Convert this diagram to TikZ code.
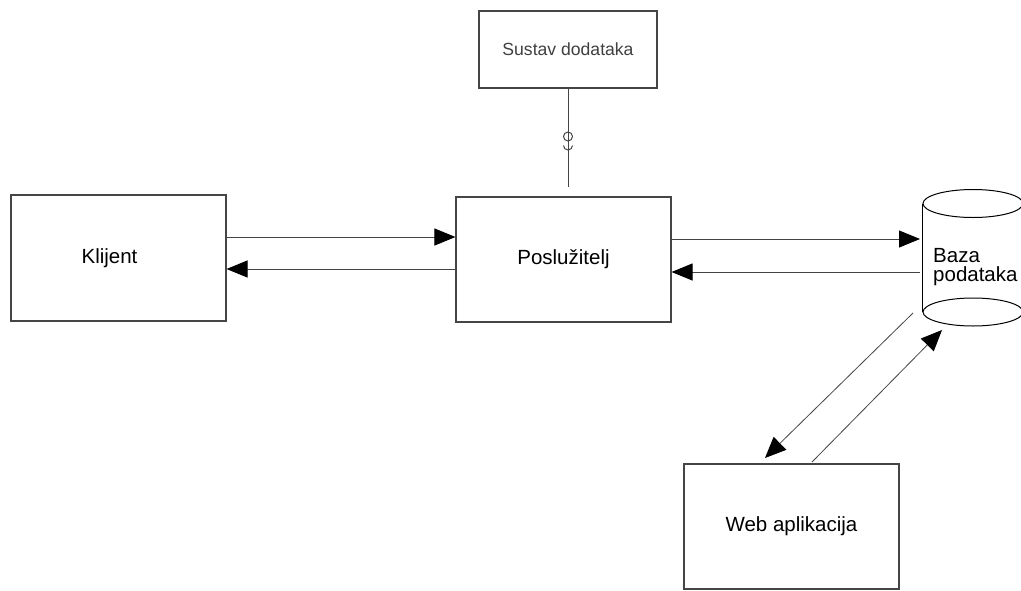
\documentclass[tikz,border=0pt]{standalone}
\usepackage{fontspec}
\setmainfont{Liberation Sans}
\usetikzlibrary{arrows.meta}
\definecolor{linegray}{HTML}{454545}
\definecolor{textgray}{HTML}{404040}
\begin{document}
\begin{tikzpicture}[x=1pt,y=-1pt,
  box/.style={draw=linegray, line width=1.1pt, inner sep=0pt, text=black,
    font=\fontsize{20.5}{24}\selectfont},
  conn/.style={draw=linegray, line width=1pt},
  arr/.style={conn, -{Triangle[length=21pt,width=17pt,black]}},
  diag/.style={draw=linegray, line width=0.8pt, -{Triangle[length=21pt,width=18pt,black]}},
  cyl/.style={draw=black, line width=1pt}]
\useasboundingbox (0,0) rectangle (1021,590);
\fill[white] (0,0) rectangle (1021,590);

% boxes
\node[box, minimum width=215pt, minimum height=126pt] (klijent) at (118.5,258) {\hspace*{-18pt}Klijent};
\node[box, minimum width=215pt, minimum height=125pt] (server) at (563.5,259.5) {Poslužitelj};
\node[box, minimum width=178pt, minimum height=77pt, text=textgray, font=\fontsize{17.6}{21}\selectfont] (sustav) at (568,49.5) {Sustav dodataka};
\node[box, minimum width=215pt, minimum height=125pt] (web) at (791.5,526.5) {Web aplikacija};

% database cylinder
\node[minimum width=100pt, minimum height=108pt, inner sep=0pt] (db) at (973,257.5) {};
\begin{scope}
  \clip (0,0) rectangle (1021,590);
  \draw[cyl] (973,203.5) ellipse [x radius=50pt, y radius=14pt];
  \draw[cyl] (973,312) ellipse [x radius=50pt, y radius=14pt];
  \draw[cyl] (db.west |- 0,203.5) -- (db.west |- 0,312);
  \draw[cyl] (db.east |- 0,203.5) -- (db.east |- 0,312);
\end{scope}
\node[anchor=west, align=left, inner sep=0pt, font=\fontsize{20.5}{19.5}\selectfont] (bazatext) at (933,267) {Baza\\podataka};

% client <-> server
\draw[arr] (klijent.east |- 0,237) -- (server.west |- 0,237);
\draw[arr] (server.west |- 0,269) -- (klijent.east |- 0,269);

% server <-> database
\draw[arr] (server.east |- 0,239) -- (920,239) coordinate (dbin);
\draw[arr] (920,272) coordinate (dbout) -- (server.east |- 0,272);

% database <-> web
\coordinate (d1s) at (913,313);
\coordinate (d1e) at (765,458);
\coordinate (d2s) at (812,462);
\coordinate (d2e) at (942,330);
\draw[diag] (d1s) -- (d1e);
\draw[diag] (d2s) -- (d2e);

% plugin interface (lollipop / socket)
\coordinate (ball) at (568,136.5);
\coordinate (sockc) at (568,145.5);
\coordinate (iend) at (568,187);
\draw[conn] (sustav.south) -- ([yshift=-4.5pt]ball);
\draw[conn] (ball) circle [radius=4.5pt];
\draw[conn] ([xshift=-4.5pt]sockc) arc [start angle=180, end angle=360, radius=4.5pt];
\draw[conn] ([yshift=4.5pt]sockc) -- (iend);
\end{tikzpicture}
\end{document}
